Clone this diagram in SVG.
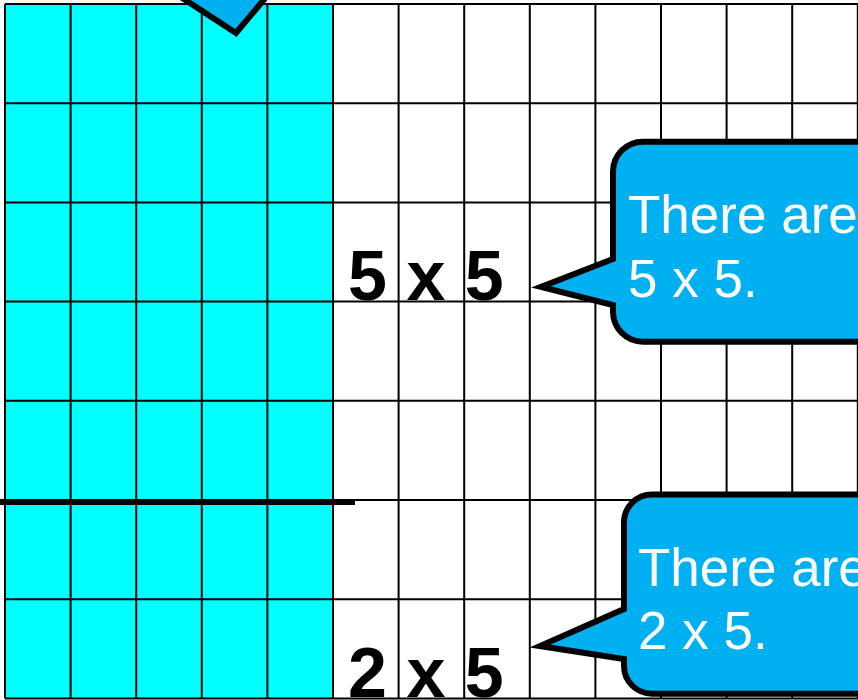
<svg xmlns="http://www.w3.org/2000/svg" width="858" height="700" viewBox="0 0 858 700">
<style>
.grid{stroke:#000;stroke-width:2;fill:none}
.callout{fill:#00B0F0;stroke:#000;stroke-width:6;stroke-linejoin:miter;stroke-miterlimit:10}
.ctext{font-family:"Liberation Sans",Arial,sans-serif;font-size:53px;fill:#fff}
.label{font-family:"Liberation Sans",Arial,sans-serif;font-size:70px;font-weight:bold;fill:#000}
</style>
<rect width="858" height="700" fill="#fff"/>
<g id="grid">
<rect x="5" y="4" width="328" height="694.4" fill="#00FFFF"/>
<path class="grid" d="M5,4V698.4M70.6,4V698.4M136.2,4V698.4M201.8,4V698.4M267.4,4V698.4M333,4V698.4M398.6,4V698.4M464.2,4V698.4M529.8,4V698.4M595.4,4V698.4M661,4V698.4M726.6,4V698.4M792.2,4V698.4M857.8,4V698.4"/>
<path class="grid" d="M5,4H858M5,103.2H858M5,202.4H858M5,301.6H858M5,400.8H858M5,500H858M5,599.2H858M5,698.4H858"/>
</g>
<g id="divider">
<line x1="0" y1="502" x2="355" y2="502" stroke="#000" stroke-width="6"/>
</g>
<g id="label-5x5">
<text class="label" x="348" y="300">5 x 5</text>
</g>
<g id="label-2x5">
<text class="label" x="348" y="697">2 x 5</text>
</g>
<g id="callout-top">
<path class="callout" d="M120,-60H320V-10H272L236,33L170,-10H120Z"/>
</g>
<g id="callout-1">
<path class="callout" d="M643,141.7H870V341.7H643A30,30 0 0 1 613,311.7V305L541,287L613,259V171.7A30,30 0 0 1 643,141.7Z"/>
<text class="ctext" x="628" y="233">There are</text>
<text class="ctext" x="628" y="297">5 x 5.</text>
</g>
<g id="callout-2">
<path class="callout" d="M652,494.5H870V693.7H652A28,28 0 0 1 624,665.7V659L540,646L624,609V522.5A28,28 0 0 1 652,494.5Z"/>
<text class="ctext" x="638" y="586">There are</text>
<text class="ctext" x="638" y="649">2 x 5.</text>
</g>
</svg>
